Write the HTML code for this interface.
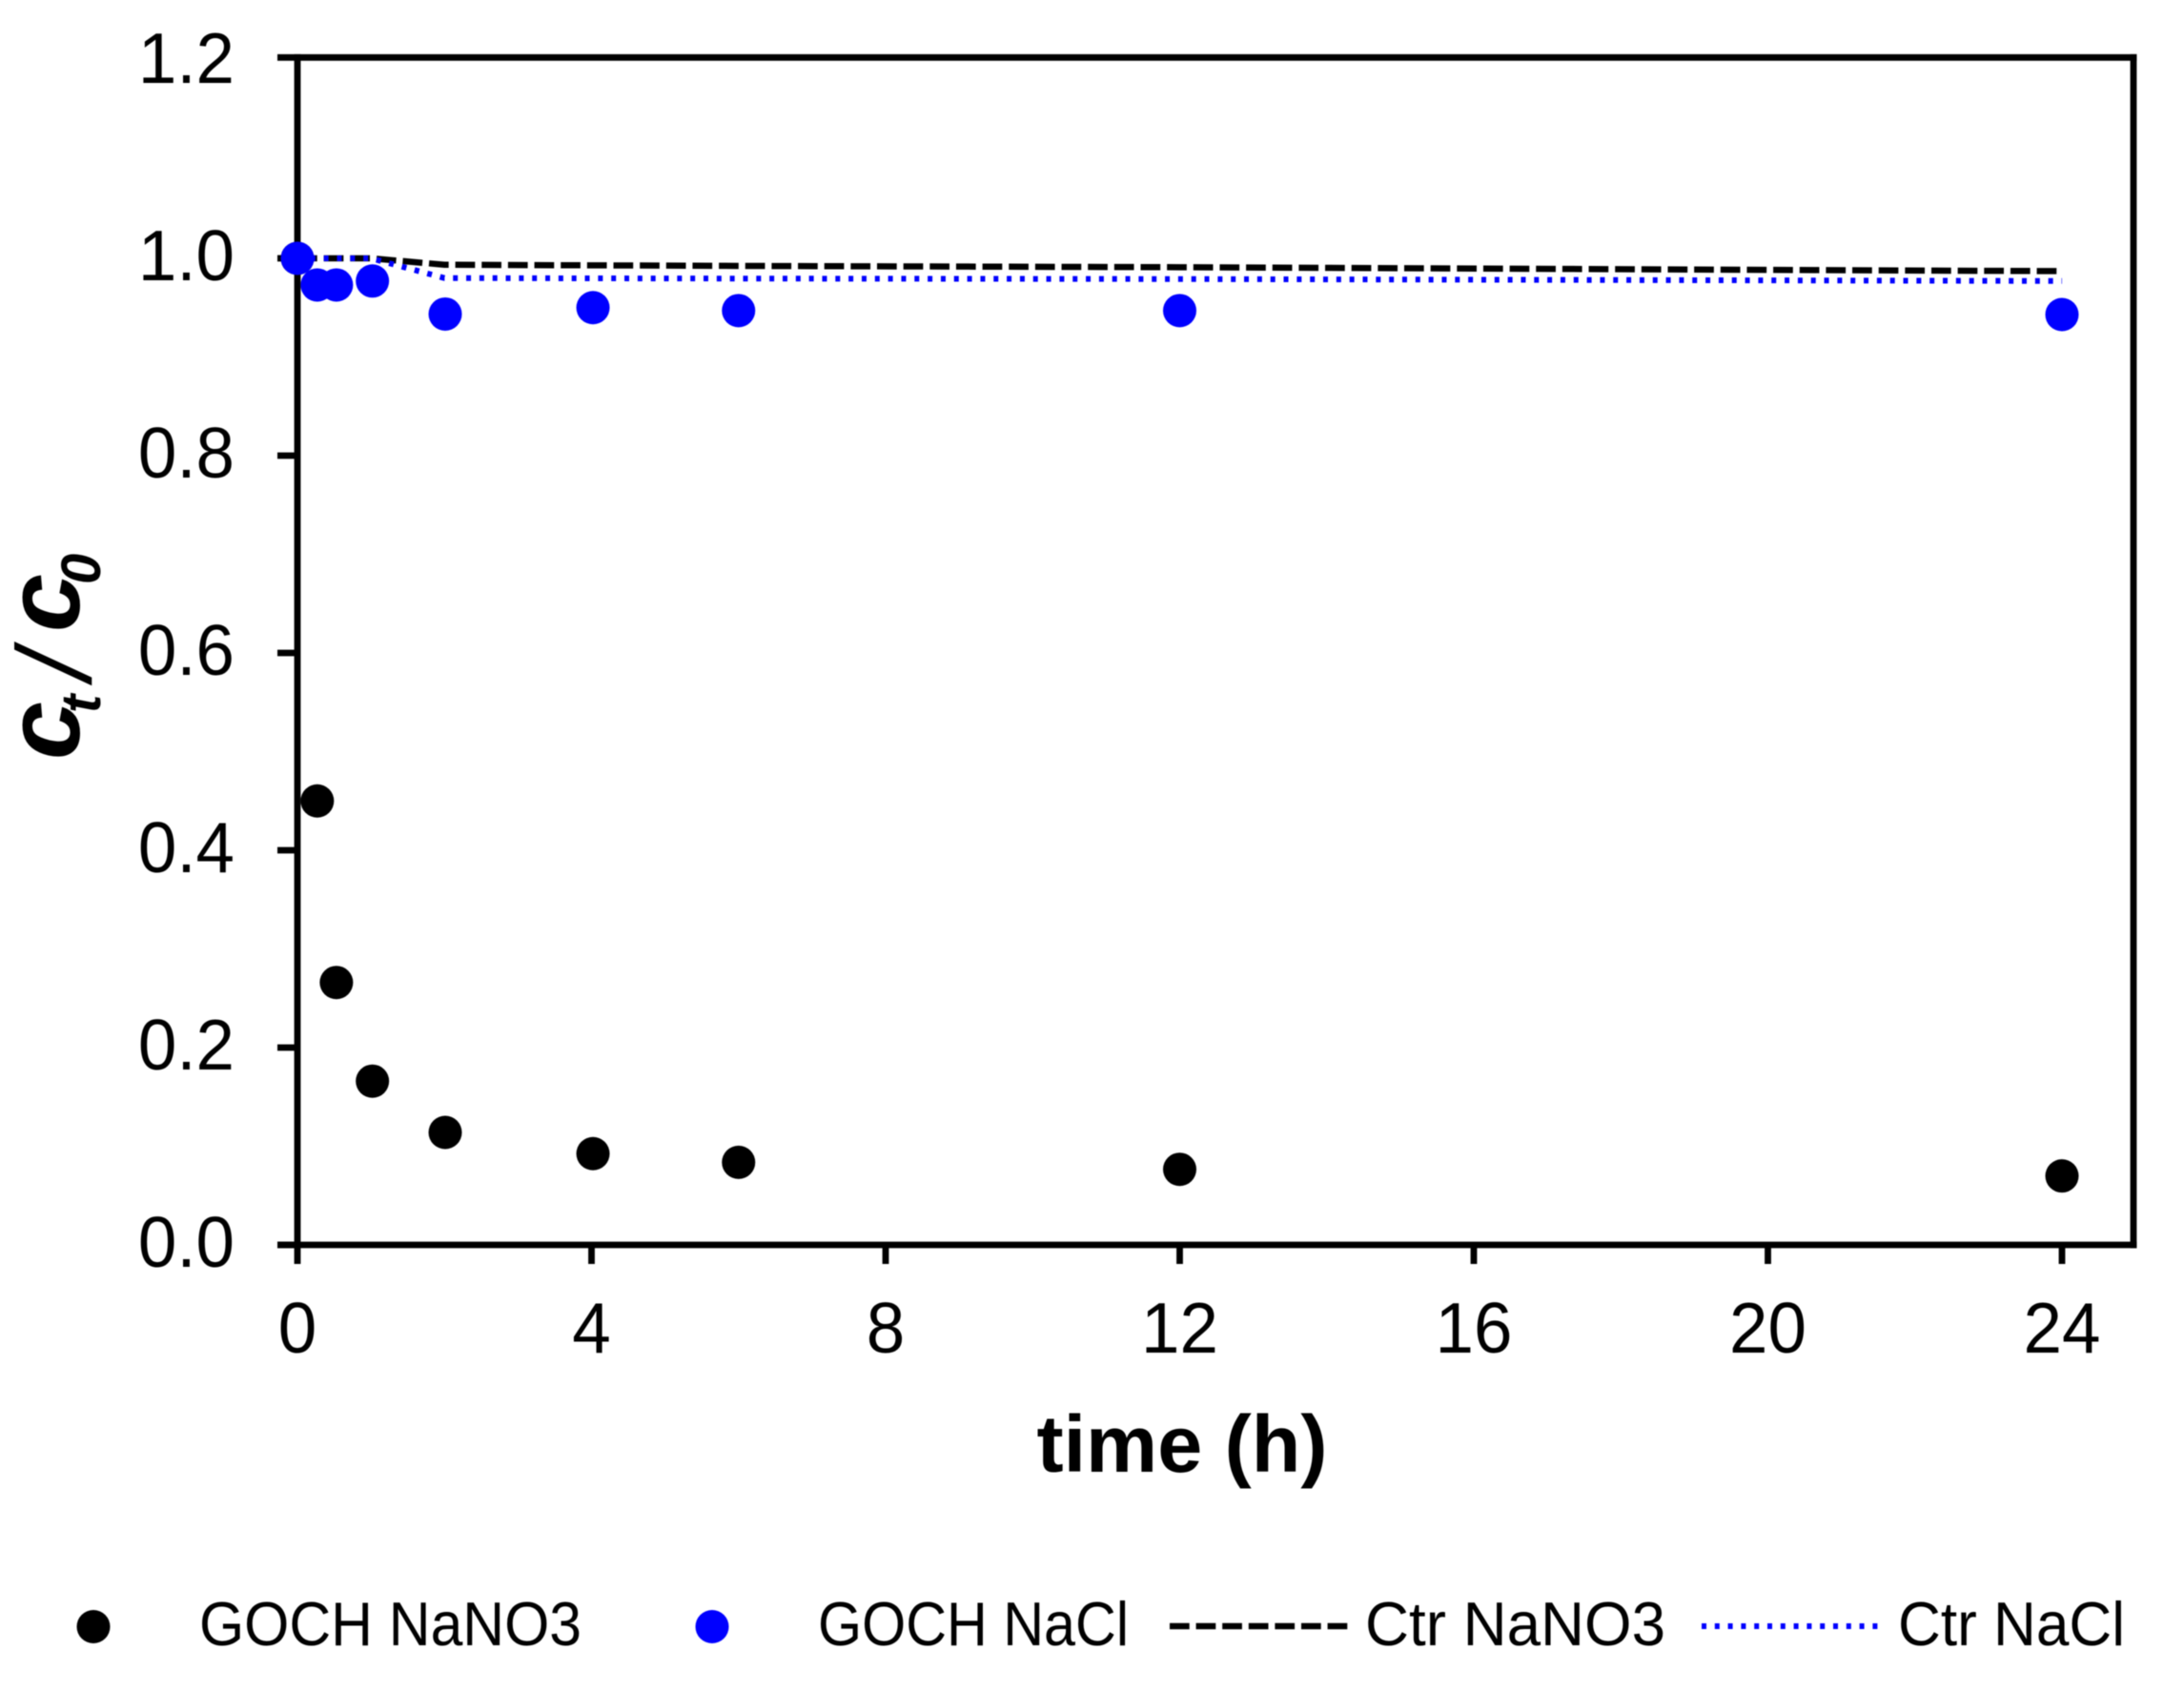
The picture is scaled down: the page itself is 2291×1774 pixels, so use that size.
<!DOCTYPE html>
<html lang="en">
<head>
<meta charset="utf-8">
<title>Ct/C0 vs time</title>
<style>
  html, body { margin: 0; padding: 0; background: #fff; }
  body { width: 2291px; height: 1774px; overflow: hidden; }
  svg { display: block; filter: blur(0.6px); }
  text { font-family: "Liberation Sans", Arial, sans-serif; fill: #000; }
  .tick-label { font-size: 75px; }
  .legend-label { font-size: 65px; }
</style>
</head>
<body>
<svg id="chart" xmlns="http://www.w3.org/2000/svg" width="2291" height="1774" viewBox="0 0 2291 1774">
  <rect x="0" y="0" width="2291" height="1774" fill="#fff"/>
  <g id="axes"></g>
  <g id="series"></g>

  <text x="1240" y="1544" text-anchor="middle" font-size="84.5" font-weight="bold">time (h)</text>

  <text transform="translate(83,797) rotate(-90)" font-weight="bold" font-style="italic" font-size="110"><tspan x="0" y="0">c</tspan><tspan x="49" y="22" font-size="58">t</tspan><tspan x="84" y="12" font-weight="normal">/</tspan><tspan x="134" y="0">c</tspan><tspan x="184" y="22" font-size="58">0</tspan></text>

  <g>
    <g>
      <circle cx="98" cy="1706.5" r="17.5" fill="#000"/>
      <text class="legend-label" x="209" y="1726" textLength="401" lengthAdjust="spacingAndGlyphs">GOCH NaNO3</text>
    </g>
    <g>
      <circle cx="747" cy="1706.5" r="17.5" fill="#0000ff"/>
      <text class="legend-label" x="858" y="1726" textLength="326" lengthAdjust="spacingAndGlyphs">GOCH NaCl</text>
    </g>
    <g>
      <line x1="1227" y1="1706" x2="1414" y2="1706" stroke="#000" stroke-width="6.5" stroke-dasharray="20.7 6.9"/>
      <text class="legend-label" x="1432" y="1726" textLength="315" lengthAdjust="spacingAndGlyphs">Ctr NaNO3</text>
    </g>
    <g>
      <line x1="1785" y1="1706" x2="1974" y2="1706" stroke="#0000ff" stroke-width="6" stroke-dasharray="5 8.8"/>
      <text class="legend-label" x="1991" y="1726" textLength="238" lengthAdjust="spacingAndGlyphs">Ctr NaCl</text>
    </g>
  </g>
</svg>

<script>
// ---- chart data ----
const xTicks = [0, 4, 8, 12, 16, 20, 24];
const yTicks = [0.0, 0.2, 0.4, 0.6, 0.8, 1.0, 1.2];
const yTickLabels = ["0.0", "0.2", "0.4", "0.6", "0.8", "1.0", "1.2"];
const sampleTimes = [0, 0.27, 0.53, 1.02, 2.01, 4.02, 6, 12, 24];
const gochNaNO3 = [1.0, 0.450, 0.266, 0.166, 0.114, 0.0925, 0.0837, 0.0766, 0.0699];
const gochNaCl = [1.0, 0.973, 0.973, 0.977, 0.9435, 0.950, 0.947, 0.947, 0.943];
const controlTimes = [0, 1, 2, 4, 6, 12, 24];
const ctrNaNO3 = [1.0, 1.0, 0.9935, 0.9929, 0.9923, 0.991, 0.987];
const ctrNaCl = [1.0, 1.0, 0.980, 0.9797, 0.9795, 0.979, 0.977];

// ---- axis functions ----
const xScale = function (t) { return 312 + t * 77.125; };
const yScale = function (v) { return 1306 - v * 1035; };

const NS = 'http://www.w3.org/2000/svg';
const axes = document.getElementById('axes');
const series = document.getElementById('series');

function make(tag, parent, attrs) {
  const el = document.createElementNS(NS, tag);
  Object.keys(attrs).forEach(function (k) { el.setAttribute(k, attrs[k]); });
  parent.appendChild(el);
  return el;
}

// Reference digits are about 3% narrower than Liberation Sans at the same height.
function narrow(label) {
  label.setAttribute('textLength', (label.getComputedTextLength() * 0.97).toFixed(1));
  label.setAttribute('lengthAdjust', 'spacingAndGlyphs');
}

const frameTop = 60.3;
const frameRight = 2238;
const frameLeftTick = 291;
const axisWidth = 6.8;

// frame
let frameLine = make('line', axes, { x1: frameLeftTick, y1: frameTop, x2: frameRight + axisWidth / 2, y2: frameTop, stroke: '#000', 'stroke-width': axisWidth });



frameLine = make('line', axes, { x1: frameRight, y1: frameTop - axisWidth / 2, x2: frameRight, y2: yScale(0) + axisWidth / 2, stroke: '#000', 'stroke-width': axisWidth });



frameLine = make('line', axes, { x1: frameLeftTick, y1: yScale(0), x2: frameRight + axisWidth / 2, y2: yScale(0), stroke: '#000', 'stroke-width': axisWidth });



frameLine = make('line', axes, { x1: xScale(0), y1: frameTop - axisWidth / 2, x2: xScale(0), y2: yScale(0), stroke: '#000', 'stroke-width': axisWidth });



// x ticks and labels
xTicks.forEach(function (t) {
  const tick = make('line', axes, { x1: xScale(t), y1: yScale(0), x2: xScale(t), y2: 1326, stroke: '#000', 'stroke-width': axisWidth });
  
  
  const label = make('text', axes, { x: xScale(t), y: 1419, 'text-anchor': 'middle', class: 'tick-label' });
  label.textContent = String(t);
  
  
  narrow(label);
});

// y ticks and labels (the top tick is the extended frame line)
yTicks.forEach(function (v, i) {
  if (v < 1.2) {
    const tick = make('line', axes, { x1: frameLeftTick, y1: yScale(v), x2: xScale(0), y2: yScale(v), stroke: '#000', 'stroke-width': axisWidth });
    
    
  }
  const label = make('text', axes, { x: 246, y: yScale(v) + 23, 'text-anchor': 'end', class: 'tick-label' });
  label.textContent = yTickLabels[i];
  
  
  narrow(label);
});

function pathFrom(times, values) {
  return times.map(function (t, i) {
    return (i === 0 ? 'M' : 'L') + xScale(t).toFixed(2) + ' ' + yScale(values[i]).toFixed(2);
  }).join(' ');
}

// control lines
const ctrNitrateLine = make('path', series, { d: pathFrom(controlTimes, ctrNaNO3), fill: 'none', stroke: '#000', 'stroke-width': 6.5, 'stroke-dasharray': '20.7 6.95' });



const ctrChlorideLine = make('path', series, { d: pathFrom(controlTimes, ctrNaCl), fill: 'none', stroke: '#0000ff', 'stroke-width': 6, 'stroke-dasharray': '5 8.83' });



// points
sampleTimes.forEach(function (t, i) {
  const dot = make('circle', series, { cx: xScale(t), cy: yScale(gochNaNO3[i]), r: 17.5, fill: '#000' });
  
  
});
sampleTimes.forEach(function (t, i) {
  const dot = make('circle', series, { cx: xScale(t), cy: yScale(gochNaCl[i]), r: 17.5, fill: '#0000ff' });
  
  
});
</script>
</body>
</html>
